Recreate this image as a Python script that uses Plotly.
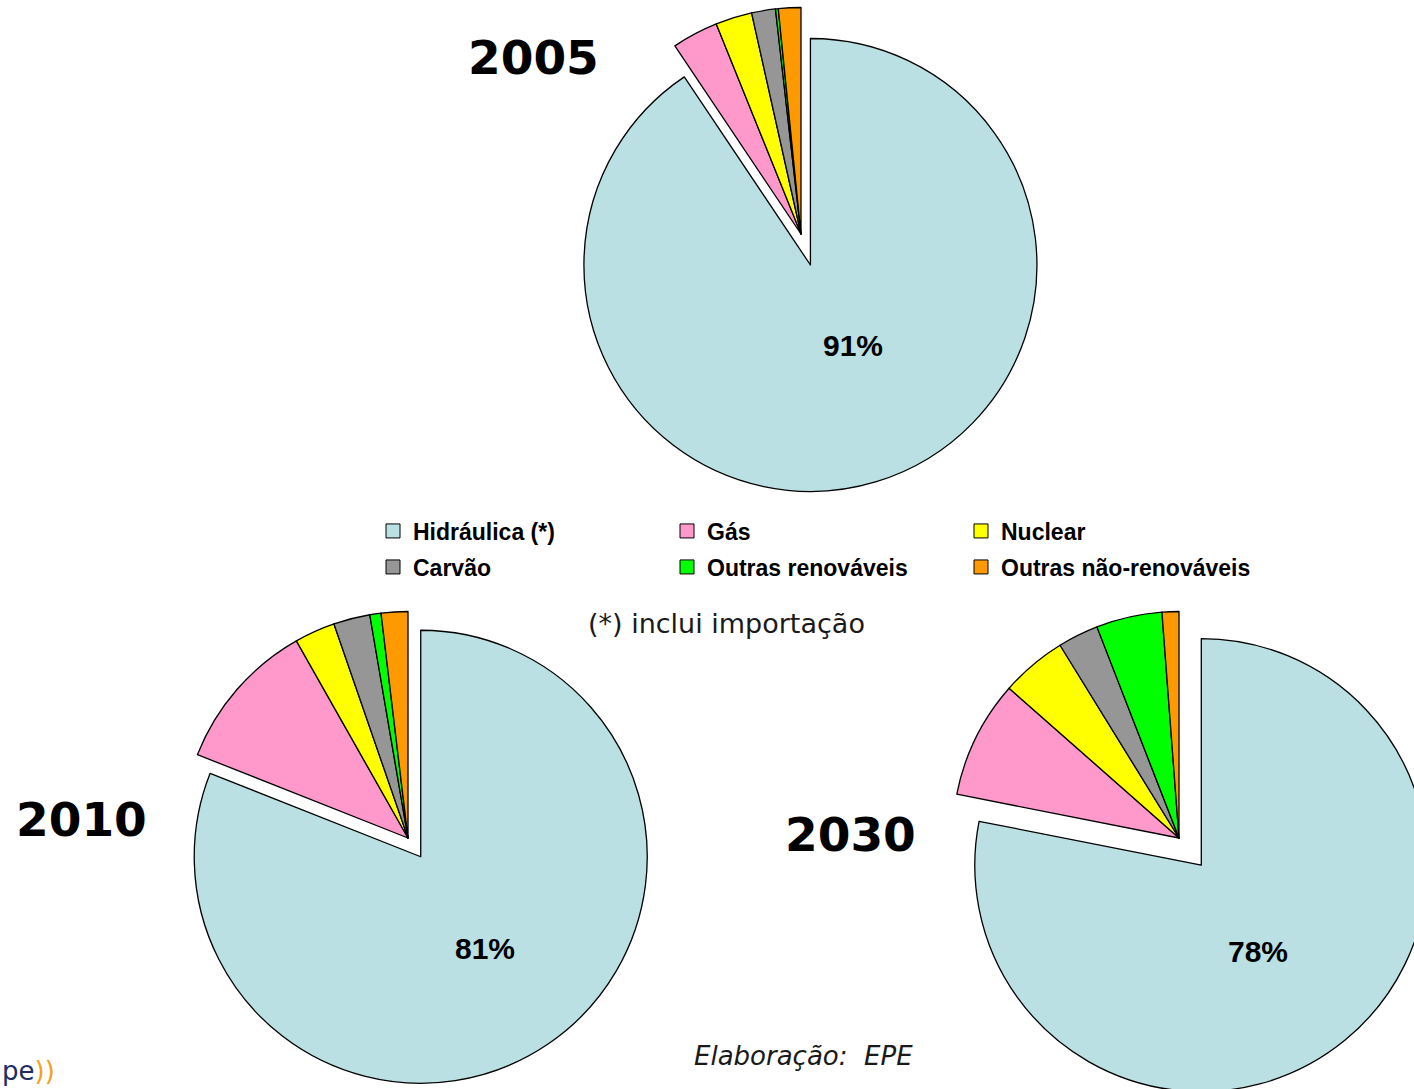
import math
import plotly.graph_objects as go

# Electricity supply mix by source (% of total)
labels = ["Hidráulica (*)", "Gás", "Nuclear", "Carvão",
          "Outras renováveis", "Outras não-renováveis"]
colors = ["#BBE0E3", "#FF99CC", "#FFFF00", "#969696", "#00FF00", "#FF9900"]
years = ["2005", "2010", "2030"]
share_2005 = [90.6, 3.3, 2.6, 1.7, 0.2, 1.6]
share_2010 = [81.0, 10.8, 2.9, 2.6, 0.8, 1.9]
share_2030 = [78.1, 8.4, 4.7, 2.9, 4.7, 1.2]

# ---- page geometry (pixels) ----
W, H = 1430, 1095
R = 226.5          # pie radius
LINE = 1.3
CLEAR = "rgba(0,0,0,0)"

# per-year placement: centre of the pie, how far the hydro slice is pulled out
# (fraction of the radius), year title position and hydro label position
layout_px = {
    "2005": dict(values=share_2005, centre=(801, 234), pull=0.143,
                 title=(533, 57), pct=(853, 346)),
    "2010": dict(values=share_2010, centre=(408, 838), pull=0.10,
                 title=(81, 819), pct=(485, 948)),
    "2030": dict(values=share_2030, centre=(1179, 838), pull=0.155,
                 title=(851, 834), pct=(1258, 951)),
}


def px_x(x):
    return x / W


def px_y(y):
    return 1 - y / H


def domain(cx, cy):
    return dict(x=[px_x(cx - R), px_x(cx + R)], y=[px_y(cy + R), px_y(cy - R)])


fig = go.Figure()

for year in years:
    spec = layout_px[year]
    vals = spec["values"]
    total = sum(vals)
    cx, cy = spec["centre"]
    # hydro slice is pushed out along its own bisector (clockwise from 12 o'clock)
    theta = math.pi * vals[0] / total
    hx = cx + spec["pull"] * R * math.sin(theta)
    hy = cy - spec["pull"] * R * math.cos(theta)

    # the smaller sources, left in place
    fig.add_trace(go.Pie(
        labels=labels, values=vals, sort=False, direction="clockwise", rotation=0,
        marker=dict(colors=[CLEAR] + colors[1:],
                    line=dict(color="black", width=[0] + [LINE] * 5)),
        textinfo="none", showlegend=False, domain=domain(cx, cy),
        name=year, hoverinfo="label+percent",
    ))
    # the exploded hydro slice
    fig.add_trace(go.Pie(
        labels=labels, values=vals, sort=False, direction="clockwise", rotation=0,
        marker=dict(colors=[colors[0]] + [CLEAR] * 5,
                    line=dict(color="black", width=[LINE] + [0] * 5)),
        textinfo="none", showlegend=False, domain=domain(hx, hy),
        name=year, hoverinfo="label+percent",
    ))

# legend entries, two rows of three
for i, (lab, col) in enumerate(zip(labels, colors)):
    fig.add_trace(go.Scatter(
        x=[None], y=[None], mode="markers", name=lab,
        marker=dict(symbol="square", size=14, color=col,
                    line=dict(color="black", width=1)),
        legend="legend" if i < 3 else "legend2", hoverinfo="skip",
    ))

legend_font = dict(family="Liberation Sans, Arial, sans-serif", size=23,
                   color="black", weight="bold")
legend_common = dict(orientation="h", xanchor="left", yanchor="middle",
                     x=px_x(373), entrywidth=249, entrywidthmode="pixels",
                     font=legend_font, bgcolor=CLEAR, borderwidth=0,
                     itemclick=False, itemdoubleclick=False)

annotations = []
for year in years:
    spec = layout_px[year]
    vals = spec["values"]
    tx, ty = spec["title"]
    annotations.append(dict(
        x=px_x(tx), y=px_y(ty), xref="paper", yref="paper", showarrow=False,
        text=f"<b>{year}</b>", xanchor="center", yanchor="middle",
        font=dict(family="DejaVu Sans, Verdana, sans-serif", size=47, color="black"),
    ))
    lx, ly = spec["pct"]
    annotations.append(dict(
        x=px_x(lx), y=px_y(ly), xref="paper", yref="paper", showarrow=False,
        text=f"<b>{vals[0] / sum(vals):.0%}</b>", xanchor="center", yanchor="middle",
        font=dict(family="Liberation Sans, Arial, sans-serif", size=30, color="black"),
    ))

annotations += [
    dict(x=px_x(727), y=px_y(623), xref="paper", yref="paper", showarrow=False,
         text="(*) inclui importação", xanchor="center", yanchor="middle",
         font=dict(family="DejaVu Sans, Verdana, sans-serif", size=27, color="#1a1a1a")),
    dict(x=px_x(803), y=px_y(1056), xref="paper", yref="paper", showarrow=False,
         text="<i>Elaboração:  EPE</i>", xanchor="center", yanchor="middle",
         font=dict(family="DejaVu Sans, Verdana, sans-serif", size=26, color="#1a1a1a")),
    dict(x=px_x(0), y=px_y(1088), xref="paper", yref="paper", showarrow=False,
         text="pe<span style='color:#F4A21E'>))</span>", xanchor="left", yanchor="bottom",
         font=dict(family="DejaVu Sans, Verdana, sans-serif", size=26, color="#1E2C64")),
]

fig.update_layout(
    width=W, height=H,
    margin=dict(l=0, r=0, t=0, b=0, pad=0),
    paper_bgcolor="white", plot_bgcolor="white",
    xaxis=dict(visible=False), yaxis=dict(visible=False),
    legend=dict(y=px_y(531), **legend_common),
    legend2=dict(y=px_y(567), **legend_common),
    annotations=annotations,
    showlegend=True,
)

# the right-hand pie runs past the page edge; keep the page from scrolling
fig.write_html(
    "out.html",
    post_script=("document.body.style.margin='0';"
                 "document.body.style.overflow='hidden';"
                 "document.documentElement.style.overflow='hidden';"),
)
